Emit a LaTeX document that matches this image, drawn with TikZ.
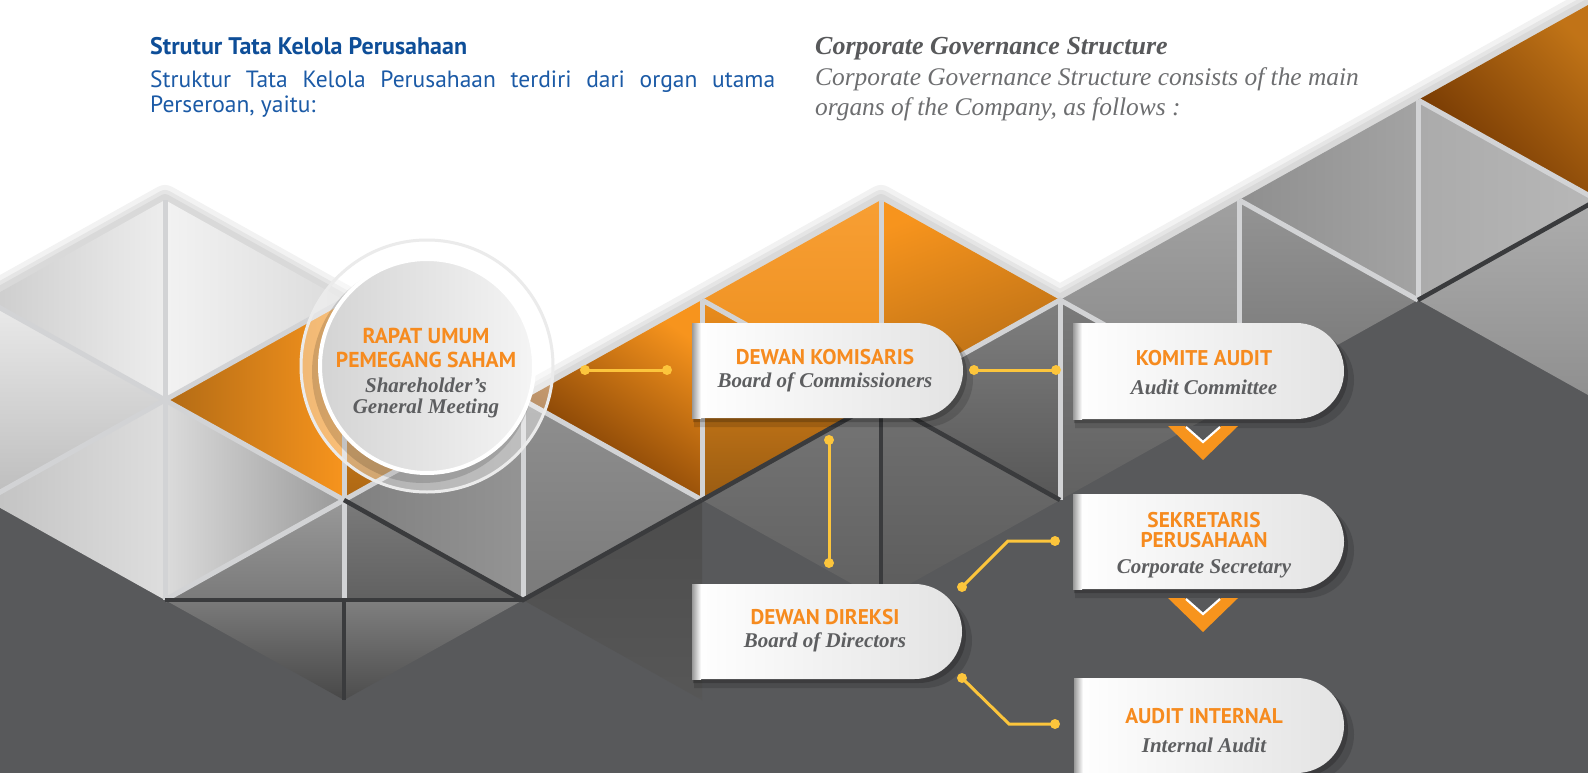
\documentclass[tikz,border=0pt]{standalone}
\usepackage{fontspec}
\setmainfont{Liberation Serif}
\newfontfamily\sansf{PT Sans}
\usetikzlibrary{calc}
\definecolor{bg}{HTML}{58595B}
\definecolor{org}{HTML}{F7941D}
\definecolor{orgb}{HTML}{6B3100}
\definecolor{orgtxt}{HTML}{F68B1F}
\definecolor{itgray}{HTML}{5D5E60}
\definecolor{ylw}{HTML}{FCC53C}
\definecolor{blu}{HTML}{1B5AA6}
\definecolor{blud}{HTML}{0E4E98}
\definecolor{gtitle}{HTML}{58595B}
\definecolor{gbody}{HTML}{6D6E70}
\definecolor{gapl}{HTML}{D2D3D5}
\definecolor{gapd}{HTML}{3A3B3D}
\newcommand\tri[4]{\shade[#4] (#1) -- (#2) -- (#3) -- cycle;}
\newcommand\orgbox[5]{%
  \pgfmathsetmacro\orgR{(#5-#3)/2}%
  \pgfmathsetmacro\orgW{#4-#2}%
  \pgfmathsetmacro\orgH{#5-#3}%
  \fill[black,opacity=.14] (#2+2,#3+9) -- (#4-\orgR+10,#3+9) arc[start angle=-90,end angle=90,radius=\orgR] -- (#2+2,#5+9) -- cycle;
  \fill[black,opacity=.2] (#2+1,#3+4) -- (#4-\orgR+4,#3+4) arc[start angle=-90,end angle=90,radius=\orgR] -- (#2+1,#5+4) -- cycle;
  \shade[left color=white,right color=black!11] (#2,#3) -- (#4-\orgR,#3) arc[start angle=-90,end angle=90,radius=\orgR] -- (#2,#5) -- cycle;
  \shade[left color=black!40,right color=white] (#2,#3) rectangle (#2+9,#5);
  \node[inner sep=0pt, minimum width=\orgW pt, minimum height=\orgH pt] (#1) at ({(#2+#4)/2},{(#3+#5)/2}) {};
}
\newcommand\chev[3]{%
  \node[inner sep=0pt, minimum size=2pt] (#1) at (#2,#3+14) {};
  \fill[org] (#2-35,#3) -- (#2+35,#3) -- (#2,#3+34) -- cycle;
  \fill[bg] (#2-18,#3) -- (#2+18,#3) -- (#2,#3+16) -- cycle;
  \draw[white,line width=2.2] (#2-17,#3+1) -- (#2,#3+16) -- (#2+17,#3+1);
}
\newcommand\ydot[1]{\fill[ylw] (#1) circle[radius=5];}
\begin{document}
\begin{tikzpicture}[x=1pt,y=-1pt,
  caps/.style={font=\sansf\bfseries\fontsize{21.3}{25}\selectfont, text=orgtxt, inner sep=0pt, anchor=base},
  ital/.style={font=\bfseries\itshape\fontsize{21}{25}\selectfont, text=itgray, inner sep=0pt, anchor=base},
  gapL/.style={draw=gapl, line width=5},
  gapD/.style={draw=gapd, line width=4.5},
  halo/.style={draw=black, line join=round, opacity=.05},
  conn/.style={draw=ylw, line width=3}]
\useasboundingbox (0,0) rectangle (1588,773);
\clip (0,0) rectangle (1588,773);
\fill[white] (0,0) rectangle (1588,773);
\fill[bg] (0,773) -- (0,450) -- (165,450) -- (344,500) -- (523,500) -- (702,420) -- (881,420) -- (1060,400) -- (1239,300) -- (1418,200) -- (1588,300) -- (1588,773) -- cycle;
% soft shadow along the upper edge of the mosaic
\foreach \w in {30,20,12} {
  \draw[halo, line width=\w] (-14,300) -- (165,200) -- (344,300) -- (523,400) -- (702,300) -- (881,200) -- (1060,300) -- (1239,200) -- (1418,100) -- (1597,0);
}
% column -1
\tri{-14,300}{165,200}{165,400}{left color=black!20,right color=black!7}
\tri{165,400}{-14,300}{-14,500}{top color=black!8,bottom color=black!26}
\tri{-14,500}{165,400}{165,600}{left color=black!24,right color=black!13}
% column 0
\tri{344,300}{165,200}{165,400}{left color=black!5,right color=black!14}
\tri{165,400}{344,300}{344,500}{left color=org!72!black,right color=org}
\tri{344,500}{165,400}{165,600}{left color=black!14,right color=black!40}
\tri{165,600}{344,500}{344,600}{top color=black!40,bottom color=black!52}
% column 1
\tri{523,400}{344,300}{344,500}{top color=org,bottom color=org!70!black}
\tri{344,500}{523,400}{523,600}{left color=black!50,right color=black!42}
\tri{344,500}{523,600}{344,600}{top color=black!52,bottom color=black!62}
\tri{165,600}{344,600}{344,700}{top color=black!52,bottom color=black!72}
\tri{344,600}{523,600}{344,700}{top color=black!50,bottom color=black!70}
% column 2
\tri{523,400}{702,300}{702,500}{top color=org,bottom color=orgb,shading angle=-35}
\tri{702,500}{523,400}{523,600}{top color=black!44,bottom color=black!52}
\tri{523,600}{702,500}{702,700}{top color=black!70,bottom color=black!66}
% column 3
\tri{702,300}{881,200}{881,400}{top color=org!90!white,bottom color=org!95!black}
\tri{881,400}{702,300}{702,500}{top color=org!95!black,bottom color=org!62!black}
\tri{702,500}{881,400}{881,600}{top color=black!54,bottom color=black!62}
% column 4
\tri{1060,300}{881,200}{881,400}{top color=org,bottom color=org!72!black,shading angle=20}
\tri{881,400}{1060,300}{1060,500}{top color=black!50,bottom color=black!66}
\tri{1060,500}{881,400}{881,600}{top color=black!56,bottom color=black!64}
% column 5
\tri{1060,300}{1239,200}{1239,400}{top color=black!37,bottom color=black!47}
\tri{1239,400}{1060,300}{1060,500}{top color=black!52,bottom color=black!62}
% column 6
\tri{1239,200}{1418,100}{1418,300}{left color=black!44,right color=black!36}
\tri{1418,300}{1239,200}{1239,400}{top color=black!42,bottom color=black!54}
% column 7
\tri{1418,100}{1597,0}{1597,200}{top color=org!78!black,bottom color=orgb,shading angle=-45}
\tri{1597,200}{1418,100}{1418,300}{left color=black!33,right color=black!28}
\tri{1418,300}{1597,200}{1597,400}{top color=black!32,bottom color=black!44}
% gaps
\draw[gapL] (165,200) -- (165,600);
\draw[gapL] (344,300) -- (344,600);
\draw[gapL] (523,400) -- (523,600);
\draw[gapL] (702,300) -- (702,500);
\draw[gapL] (881,200) -- (881,400);
\draw[gapL] (1060,300) -- (1060,500);
\draw[gapL] (1239,200) -- (1239,400);
\draw[gapL] (1418,100) -- (1418,300);
\draw[gapL] (-14,300) -- (165,400) -- (344,300);
\draw[gapL] (-14,500) -- (165,400) -- (344,500) -- (523,400) -- (702,500);
\draw[gapL] (165,600) -- (344,500);
\draw[gapL] (702,300) -- (881,400) -- (1060,300) -- (1239,400);
\draw[gapL] (1239,200) -- (1418,300);
\draw[gapL] (1418,100) -- (1597,200);
\draw[gapD] (702,500) -- (881,400) -- (1060,500);
\draw[gapD] (881,400) -- (881,600);
\draw[gapD] (1418,300) -- (1597,200);
\draw[gapD] (344,500) -- (523,600) -- (702,500);
\draw[gapD] (165,600) -- (523,600);
\draw[gapD] (344,600) -- (344,700);
% header texts
\node[anchor=base west, inner sep=0pt, font=\sansf\bfseries\fontsize{24}{28}\selectfont, text=blud] (h1) at (150,55) {Strutur Tata Kelola Perusahaan};
\node[anchor=base west, inner sep=0pt, font=\sansf\fontsize{23.5}{28}\selectfont, text=blu] (h2) at (150,88) {\makebox[625pt][s]{Struktur Tata Kelola Perusahaan terdiri dari organ utama}};
\node[anchor=base west, inner sep=0pt, font=\sansf\fontsize{23.5}{28}\selectfont, text=blu] (h3) at (150,113) {Perseroan, yaitu:};
\node[anchor=base west, inner sep=0pt, font=\bfseries\itshape\fontsize{26}{30}\selectfont, text=gtitle] (h4) at (815,55) {Corporate Governance Structure};
\node[anchor=base west, inner sep=0pt, font=\itshape\fontsize{25.4}{30}\selectfont, text=gbody] (h5) at (815,86) {Corporate Governance Structure consists of the main};
\node[anchor=base west, inner sep=0pt, font=\itshape\fontsize{25.4}{30}\selectfont, text=gbody] (h6) at (815,116) {organs of the Company, as follows :};
% circle RUPS
\fill[white,opacity=.4] (427,366) circle[radius=127];
\draw[black!8,line width=3] (427,366) circle[radius=126];
\fill[black,opacity=.14] (423,372) circle[radius=111];
\shade[left color=black!17,right color=black!4] (427,366) circle[radius=108];
\draw[white,line width=4] (427,366) circle[radius=107];
\node[circle, inner sep=0pt, minimum size=216pt] (rups) at (427,366) {};
\node[caps,font=\sansf\bfseries\fontsize{21.6}{25}\selectfont] (rups1) at (426,343) {RAPAT UMUM};
\node[caps,font=\sansf\bfseries\fontsize{21.6}{25}\selectfont] (rups2) at (426,367) {PEMEGANG SAHAM};
\node[ital] (rups3) at (426,392) {Shareholder’s};
\node[ital] (rups4) at (426,413) {General Meeting};
% boxes
\orgbox{dk}{692}{323}{963}{418}
\orgbox{ka}{1073}{323}{1344}{419}
\orgbox{sp}{1073}{494}{1344}{589}
\orgbox{dd}{692}{584}{962}{679}
\orgbox{ai}{1074}{678}{1344}{773}
\node[caps] (dk1) at (825,364) {DEWAN KOMISARIS};
\node[ital] (dk2) at (825,387) {Board of Commissioners};
\node[caps] (ka1) at (1204,365) {KOMITE AUDIT};
\node[ital] (ka2) at (1204,394) {Audit Committee};
\node[caps] (sp1) at (1204,527) {SEKRETARIS};
\node[caps] (sp2) at (1204,547) {PERUSAHAAN};
\node[ital] (sp3) at (1204,573) {Corporate Secretary};
\node[caps] (dd1) at (825,624) {DEWAN DIREKSI};
\node[ital] (dd2) at (825,647) {Board of Directors};
\node[caps] (ai1) at (1204,723) {AUDIT INTERNAL};
\node[ital] (ai2) at (1204,752) {Internal Audit};
% chevrons
\chev{ch1}{1203}{426}
\chev{ch2}{1203}{598}
% connectors
\coordinate (c1a) at (585,370); \coordinate (c1b) at (667,370);
\coordinate (c2a) at (974,370); \coordinate (c2b) at (1056,370);
\coordinate (c3a) at (829,440); \coordinate (c3b) at (829,563);
\coordinate (c4a) at (962,587); \coordinate (c4m) at (1008,541); \coordinate (c4b) at (1055,541);
\coordinate (c5a) at (962,678); \coordinate (c5m) at (1009,724); \coordinate (c5b) at (1055,724);
\draw[conn] (c1a) -- (c1b); \ydot{c1a} \ydot{c1b}
\draw[conn] (c2a) -- (c2b); \ydot{c2a} \ydot{c2b}
\draw[conn] (c3a) -- (c3b); \ydot{c3a} \ydot{c3b}
\draw[conn] (c4a) -- (c4m) -- (c4b); \ydot{c4a} \ydot{c4b}
\draw[conn] (c5a) -- (c5m) -- (c5b); \ydot{c5a} \ydot{c5b}
\end{tikzpicture}
\end{document}
